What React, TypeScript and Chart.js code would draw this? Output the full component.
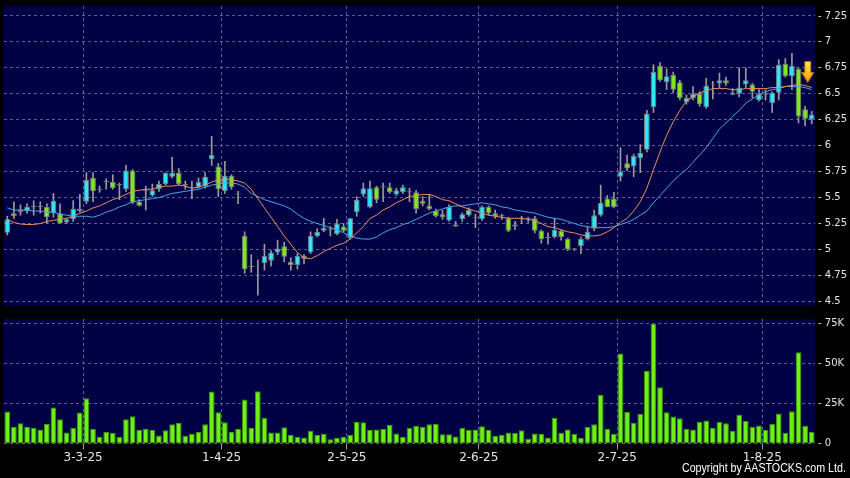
import React, { useEffect, useRef } from "react";
import { Chart, registerables } from "chart.js";

Chart.register(...registerables);

// ---------- data ----------
const dateLabels = ["3-3-25", "1-4-25", "2-5-25", "2-6-25", "2-7-25", "1-8-25"];
// boundary positions (between trading days) where each month label / grid line sits
const dateTickIndex = [11.5, 32.5, 51.5, 71.5, 92.5, 114.5];

const priceTicks = [4.5, 4.75, 5, 5.25, 5.5, 5.75, 6, 6.25, 6.5, 6.75, 7, 7.25];
const volumeTicks = [0, 25, 50, 75];
const volumeTickLabels = ["0", "25K", "50K", "75K"];

const openP = [
  5.16, 5.35, 5.36, 5.37, 5.41, 5.41, 5.41, 5.35, 5.35, 5.26,
  5.29, 5.39, 5.46, 5.69, 5.57, 5.65, 5.65, 5.62, 5.58, 5.76,
  5.46, 5.56, 5.52, 5.58, 5.63, 5.70, 5.74, 5.62, 5.59, 5.60,
  5.61, 5.87, 5.80, 5.56, 5.71, 5.53, 5.13, 4.83, 4.75, 4.87,
  4.89, 4.97, 5.03, 4.88, 4.85, 4.94, 4.97, 5.13, 5.18, 5.19,
  5.15, 5.22, 5.11, 5.36, 5.53, 5.41, 5.60, 5.60, 5.60, 5.53,
  5.55, 5.55, 5.55, 5.47, 5.42, 5.37, 5.34, 5.28, 5.22, 5.29,
  5.33, 5.30, 5.29, 5.41, 5.35, 5.32, 5.30, 5.24, 5.29, 5.29,
  5.30, 5.18, 5.11, 5.12, 5.18, 5.10, 5.00, 5.03, 5.10, 5.20,
  5.33, 5.49, 5.49, 5.70, 5.83, 5.80, 5.88, 5.96, 6.37, 6.77,
  6.61, 6.68, 6.61, 6.42, 6.46, 6.50, 6.37, 6.59, 6.60, 6.63,
  6.51, 6.50, 6.59, 6.59, 6.44, 6.49, 6.41, 6.51, 6.79, 6.67,
  6.74, 6.35, 6.25,
];
const highP = [
  5.32, 5.46, 5.43, 5.44, 5.47, 5.46, 5.44, 5.54, 5.44, 5.30,
  5.47, 5.53, 5.74, 5.74, 5.61, 5.68, 5.72, 5.64, 5.81, 5.77,
  5.48, 5.61, 5.63, 5.66, 5.74, 5.89, 5.78, 5.66, 5.66, 5.69,
  5.74, 6.09, 5.83, 5.85, 5.72, 5.56, 5.17, 4.95, 4.90, 5.05,
  4.99, 5.09, 5.07, 4.92, 4.96, 4.95, 5.17, 5.20, 5.30, 5.22,
  5.29, 5.25, 5.30, 5.51, 5.64, 5.66, 5.61, 5.64, 5.64, 5.59,
  5.62, 5.59, 5.57, 5.51, 5.53, 5.39, 5.38, 5.43, 5.27, 5.35,
  5.40, 5.34, 5.42, 5.42, 5.38, 5.34, 5.31, 5.27, 5.32, 5.31,
  5.32, 5.19, 5.16, 5.30, 5.19, 5.11, 5.01, 5.12, 5.22, 5.38,
  5.62, 5.52, 5.55, 5.98, 5.91, 5.92, 6.01, 6.34, 6.78, 6.80,
  6.74, 6.71, 6.63, 6.49, 6.57, 6.52, 6.65, 6.62, 6.70, 6.66,
  6.55, 6.75, 6.75, 6.60, 6.54, 6.54, 6.52, 6.83, 6.84, 6.89,
  6.75, 6.38, 6.33,
];
const lowP = [
  5.14, 5.30, 5.33, 5.35, 5.33, 5.35, 5.25, 5.31, 5.25, 5.25,
  5.27, 5.36, 5.44, 5.46, 5.55, 5.58, 5.58, 5.48, 5.56, 5.44,
  5.42, 5.38, 5.51, 5.56, 5.62, 5.69, 5.62, 5.58, 5.49, 5.59,
  5.59, 5.81, 5.51, 5.54, 5.58, 5.44, 4.77, 4.78, 4.56, 4.80,
  4.84, 4.95, 4.88, 4.80, 4.81, 4.86, 4.96, 5.12, 5.17, 5.13,
  5.14, 5.17, 5.10, 5.32, 5.51, 5.40, 5.45, 5.46, 5.54, 5.52,
  5.54, 5.46, 5.35, 5.42, 5.38, 5.31, 5.29, 5.27, 5.22, 5.27,
  5.32, 5.21, 5.28, 5.33, 5.30, 5.29, 5.17, 5.19, 5.25, 5.26,
  5.16, 5.06, 5.05, 5.11, 5.09, 4.99, 4.99, 4.96, 5.09, 5.18,
  5.32, 5.41, 5.40, 5.66, 5.76, 5.70, 5.74, 5.94, 6.32, 6.62,
  6.54, 6.51, 6.44, 6.40, 6.44, 6.38, 6.36, 6.45, 6.56, 6.58,
  6.49, 6.47, 6.56, 6.46, 6.43, 6.44, 6.32, 6.44, 6.66, 6.54,
  6.22, 6.19, 6.21,
];
const closeP = [
  5.29, 5.32, 5.38, 5.41, 5.41, 5.41, 5.31, 5.47, 5.25, 5.29,
  5.39, 5.37, 5.67, 5.56, 5.58, 5.65, 5.59, 5.62, 5.76, 5.45,
  5.42, 5.56, 5.57, 5.63, 5.74, 5.74, 5.63, 5.62, 5.59, 5.65,
  5.70, 5.91, 5.58, 5.71, 5.60, 5.53, 4.81, 4.83, 4.75, 4.94,
  4.97, 5.01, 4.93, 4.85, 4.94, 4.91, 5.13, 5.17, 5.21, 5.19,
  5.25, 5.18, 5.30, 5.48, 5.59, 5.59, 5.48, 5.60, 5.55, 5.57,
  5.60, 5.55, 5.39, 5.44, 5.39, 5.32, 5.31, 5.41, 5.24, 5.34,
  5.38, 5.30, 5.41, 5.35, 5.32, 5.32, 5.18, 5.22, 5.29, 5.29,
  5.18, 5.10, 5.11, 5.19, 5.12, 5.00, 5.00, 5.10, 5.17, 5.33,
  5.45, 5.41, 5.41, 5.75, 5.78, 5.90, 5.93, 6.31, 6.71, 6.63,
  6.67, 6.54, 6.46, 6.46, 6.50, 6.40, 6.58, 6.60, 6.63, 6.60,
  6.49, 6.56, 6.63, 6.52, 6.50, 6.49, 6.51, 6.78, 6.67, 6.77,
  6.28, 6.26, 6.30,
];
// short moving average (orange)
const maShort = [
  5.29, 5.26, 5.245, 5.24, 5.24, 5.25, 5.27, 5.28, 5.29, 5.30,
  5.32, 5.35, 5.37, 5.40, 5.42, 5.45, 5.48, 5.50, 5.53, 5.56,
  5.57, 5.58, 5.58, 5.60, 5.61, 5.61, 5.62, 5.61, 5.59, 5.60,
  5.62, 5.65, 5.67, 5.68, 5.67, 5.66, 5.64, 5.58, 5.49, 5.40,
  5.31, 5.22, 5.13, 5.05, 4.97, 4.92, 4.91, 4.94, 4.98, 5.01,
  5.04, 5.06, 5.10, 5.16, 5.22, 5.30, 5.33, 5.38, 5.41, 5.45,
  5.48, 5.51, 5.52, 5.53, 5.53, 5.51, 5.48, 5.47, 5.44, 5.41,
  5.39, 5.37, 5.35, 5.33, 5.32, 5.31, 5.30, 5.30, 5.30, 5.29,
  5.28, 5.25, 5.22, 5.21, 5.19, 5.17, 5.16, 5.14, 5.13, 5.13,
  5.14, 5.17, 5.21, 5.26, 5.30, 5.37, 5.46, 5.59, 5.77, 5.94,
  6.10, 6.23, 6.34, 6.43, 6.47, 6.51, 6.53, 6.55, 6.55, 6.55,
  6.54, 6.54, 6.55, 6.55, 6.55, 6.55, 6.56, 6.56, 6.57, 6.58,
  6.59, 6.58, 6.56,
];
// long moving average (blue)
const maLong = [
  5.40, 5.38, 5.38, 5.38, 5.37, 5.37, 5.36, 5.36, 5.34, 5.33,
  5.32, 5.32, 5.32, 5.31, 5.33, 5.36, 5.38, 5.41, 5.43, 5.46,
  5.47, 5.48, 5.49, 5.50, 5.52, 5.54, 5.55, 5.56, 5.57, 5.58,
  5.60, 5.62, 5.63, 5.64, 5.64, 5.63, 5.60, 5.54, 5.51, 5.48,
  5.46, 5.44, 5.42, 5.39, 5.34, 5.30, 5.27, 5.25, 5.23, 5.21,
  5.19, 5.16, 5.13, 5.11, 5.10, 5.10, 5.12, 5.16, 5.19, 5.21,
  5.24, 5.26, 5.29, 5.32, 5.35, 5.37, 5.39, 5.41, 5.42, 5.42,
  5.43, 5.44, 5.45, 5.44, 5.43, 5.41, 5.40, 5.38, 5.37, 5.36,
  5.35, 5.33, 5.31, 5.30, 5.29, 5.27, 5.25, 5.23, 5.22, 5.21,
  5.21, 5.21, 5.22, 5.24, 5.26, 5.29, 5.33, 5.37, 5.45, 5.52,
  5.59, 5.66, 5.72, 5.77, 5.84, 5.91, 5.98, 6.07, 6.16, 6.22,
  6.28, 6.34, 6.41, 6.45, 6.49, 6.52, 6.54, 6.55, 6.57, 6.57,
  6.57, 6.56, 6.54,
];
// volume in thousands of shares
const volumeK = [
  20.0, 10.5, 12.6, 10.3, 9.7, 8.8, 12.2, 22.5, 15.1, 6.9,
  9.7, 19.3, 28.2, 9.0, 4.2, 7.1, 6.7, 4.2, 15.1, 17.0,
  8.6, 9.2, 8.4, 5.0, 8.2, 12.0, 12.8, 4.8, 5.9, 7.1,
  12.0, 32.4, 19.5, 13.2, 7.1, 9.2, 27.5, 9.7, 32.6, 16.0,
  6.9, 6.9, 10.1, 5.3, 4.0, 3.8, 8.0, 5.3, 6.1, 2.7,
  3.6, 4.2, 5.3, 13.4, 13.2, 8.4, 8.8, 9.2, 11.6, 6.3,
  4.2, 9.7, 10.9, 10.5, 12.0, 12.2, 5.7, 5.7, 4.4, 9.9,
  8.6, 8.8, 10.7, 8.4, 4.8, 5.3, 6.9, 6.5, 8.2, 2.9,
  6.3, 5.9, 3.8, 16.0, 6.7, 8.8, 6.1, 3.4, 10.3, 12.0,
  30.3, 9.2, 5.9, 56.1, 19.7, 13.0, 18.5, 45.2, 74.6, 35.1,
  19.5, 16.8, 15.8, 9.2, 8.8, 13.4, 14.3, 9.7, 13.4, 12.6,
  7.8, 17.9, 14.1, 10.5, 11.3, 8.4, 12.4, 18.7, 6.5, 20.2,
  56.9, 11.1, 7.4,
];
const signalArrow = { index: 121.4, price: 6.71 };

// ---------- styles ----------
const FONT = "'DejaVu Sans', sans-serif";
const NAVY = "#000044";
const GRID = "#5c5ca0";
const TEXT = "#e4e4e4";
const UP = "#2ee6f6";
const DOWN = "#82e61e";
const DOJI = "#9a9a9a";
const WICK = "#9a9a9a";
const EDGE = "#7c7c7c";
const MA_SHORT = "#e8905a";
const MA_LONG = "#4ba3ea";
const VOL_FILL = "#6ef014";
const VOL_EDGE = "#3a9a0a";

const plotBg = {
  id: "plotBg",
  beforeDraw(chart: any) {
    const { ctx, chartArea: a } = chart;
    ctx.save();
    ctx.fillStyle = NAVY;
    ctx.fillRect(a.left, a.top, a.right - a.left, a.bottom - a.top);
    ctx.restore();
  },
};

function makeArrow(): HTMLCanvasElement {
  const c = document.createElement("canvas");
  c.width = 13;
  c.height = 22;
  const g = c.getContext("2d")!;
  const grad = g.createLinearGradient(0, 0, 0, 22);
  grad.addColorStop(0, "#ffe85a");
  grad.addColorStop(1, "#f29a00");
  g.fillStyle = grad;
  g.beginPath();
  g.moveTo(3.5, 0.5);
  g.lineTo(9.5, 0.5);
  g.lineTo(9.5, 11.5);
  g.lineTo(12.5, 11.5);
  g.lineTo(6.5, 21.5);
  g.lineTo(0.5, 11.5);
  g.lineTo(3.5, 11.5);
  g.closePath();
  g.fill();
  g.strokeStyle = "#b87000";
  g.lineWidth = 1;
  g.stroke();
  return c;
}

function xScale(n: number, showLabels: boolean, height: number) {
  return {
    type: "linear" as const,
    min: -0.5,
    max: n - 0.5,
    offset: false,
    afterBuildTicks: (s: any) => {
      s.ticks = dateTickIndex.map((v) => ({ value: v }));
    },
    ticks: {
      display: showLabels,
      autoSkip: false,
      maxRotation: 0,
      padding: 1,
      color: TEXT,
      font: { family: FONT, size: 12 },
      callback: (_v: any, i: number) => dateLabels[i],
    },
    grid: {
      offset: false,
      color: GRID,
      lineWidth: 1,
      drawTicks: showLabels,
      tickLength: 6,
      tickColor: "#a0a0a0",
      tickBorderDash: [],
    },
    border: { display: false, dash: [3, 3] },
    afterFit: (s: any) => {
      s.height = height;
      s.paddingLeft = 0;
      s.paddingRight = 0;
    },
  };
}

export default function App() {
  const priceRef = useRef<HTMLCanvasElement>(null);
  const volRef = useRef<HTMLCanvasElement>(null);

  useEffect(() => {
    const n = closeP.length;
    const bodyColors = closeP.map((c, i) => (c > openP[i] ? UP : c < openP[i] ? DOWN : DOJI));

    const price = new Chart(priceRef.current!, {
      type: "bar",
      data: {
        datasets: [
          {
            type: "scatter",
            data: [{ x: signalArrow.index, y: signalArrow.price }],
            pointStyle: makeArrow() as any,
            pointRadius: 1,
            order: -1,
          } as any,
          {
            type: "line",
            data: maShort.map((v, i) => ({ x: i, y: v })),
            borderColor: MA_SHORT,
            borderWidth: 1,
            pointRadius: 0,
            order: 0,
          },
          {
            type: "line",
            data: maLong.map((v, i) => ({ x: i, y: v })),
            borderColor: MA_LONG,
            borderWidth: 1,
            pointRadius: 0,
            order: 0,
          },
          {
            type: "bar",
            data: openP.map((o, i) => ({ x: i, y: [o, closeP[i]] })) as any,
            backgroundColor: bodyColors,
            borderColor: EDGE,
            borderWidth: 1,
            borderSkipped: false,
            grouped: false,
            barPercentage: 0.87,
            categoryPercentage: 1,
            minBarLength: 1,
            order: 1,
          },
          {
            type: "bar",
            data: lowP.map((l, i) => ({ x: i, y: [l, highP[i]] })) as any,
            backgroundColor: WICK,
            borderWidth: 0,
            grouped: false,
            barThickness: 1,
            order: 2,
          },
        ],
      },
      options: {
        animation: false,
        responsive: false,
        events: [],
        layout: { autoPadding: false, padding: { left: 4, top: 6, right: 0, bottom: 0 } },
        plugins: { legend: { display: false }, tooltip: { enabled: false } },
        scales: {
          x: xScale(n, false, 0) as any,
          y: {
            position: "right",
            min: 4.455,
            max: 7.346,
            afterBuildTicks: (s: any) => {
              s.ticks = priceTicks.map((v) => ({ value: v }));
            },
            ticks: {
              color: TEXT,
              font: { family: FONT, size: 10 },
              padding: 3,
              callback: (v: any) => "- " + v,
            },
            grid: { color: GRID, lineWidth: 1, drawTicks: false },
            border: { display: false, dash: [3, 3] },
            afterFit: (s: any) => {
              s.width = 35;
              s.paddingTop = 0;
              s.paddingBottom = 0;
            },
          },
        },
      },
      plugins: [plotBg],
    });

    const vol = new Chart(volRef.current!, {
      type: "bar",
      data: {
        datasets: [
          {
            data: volumeK.map((v, i) => ({ x: i, y: v })),
            backgroundColor: VOL_FILL,
            borderColor: VOL_EDGE,
            borderWidth: 1,
            borderSkipped: false,
            barPercentage: 0.87,
            categoryPercentage: 1,
          },
        ],
      },
      options: {
        animation: false,
        responsive: false,
        events: [],
        layout: { autoPadding: false, padding: { left: 4, top: 6, right: 0, bottom: 0 } },
        plugins: { legend: { display: false }, tooltip: { enabled: false } },
        scales: {
          x: xScale(n, true, 34.5) as any,
          y: {
            position: "right",
            min: 0,
            max: 77.7,
            afterBuildTicks: (s: any) => {
              s.ticks = volumeTicks.map((v) => ({ value: v }));
            },
            ticks: {
              color: TEXT,
              font: { family: FONT, size: 10 },
              padding: 3,
              callback: (_v: any, i: number) => "- " + volumeTickLabels[i],
            },
            grid: { color: GRID, lineWidth: 1, drawTicks: false },
            border: { display: false, dash: [3, 3] },
            afterFit: (s: any) => {
              s.width = 35;
              s.paddingTop = 0;
              s.paddingBottom = 0;
            },
          },
        },
      },
      plugins: [plotBg],
    });

    return () => {
      price.destroy();
      vol.destroy();
    };
  }, []);

  return (
    <div
      style={{
        position: "fixed",
        left: 0,
        top: 0,
        width: 850,
        height: 478,
        background: "#000",
        overflow: "hidden",
      }}
    >
      <canvas
        ref={priceRef}
        width={850}
        height={306}
        style={{ position: "absolute", left: 0, top: 0, width: 850, height: 306 }}
      />
      <canvas
        ref={volRef}
        width={850}
        height={165}
        style={{ position: "absolute", left: 0, top: 313, width: 850, height: 165 }}
      />
      <div
        style={{
          position: "absolute",
          right: 4,
          top: 460,
          color: "#ffffff",
          fontFamily: "'Liberation Sans', Arial, sans-serif",
          fontSize: 13,
          lineHeight: "16px",
          whiteSpace: "nowrap",
          transform: "scaleX(0.82)",
          transformOrigin: "right center",
        }}
      >
        Copyright by AASTOCKS.com Ltd.
      </div>
    </div>
  );
}
